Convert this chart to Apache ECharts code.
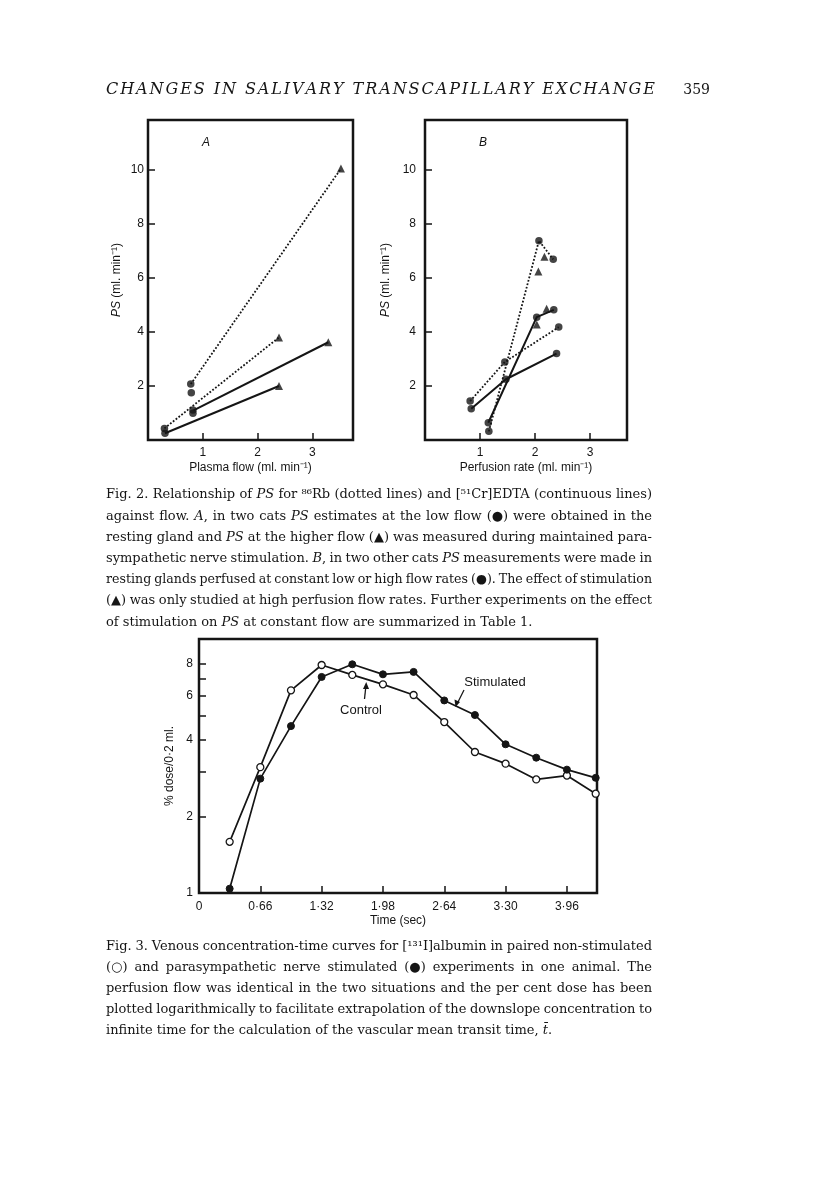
<!DOCTYPE html>
<html><head><meta charset="utf-8">
<script src="https://cdn.jsdelivr.net/npm/echarts@6.0.0/dist/echarts.min.js"></script>
<style>html,body{margin:0;padding:0;background:#fff}#c{width:816px;height:1183px}</style>
</head><body><div id="c"></div>
<script>
// ---------- Fig. 2A : PS vs plasma flow ----------
const A_xTicks = [1, 2, 3];
const A_yTicks = [2, 4, 6, 8, 10];
const A_rbLine1 = [[0.78, 2.07], [3.52, 10.05]];
const A_rbLine2 = [[0.30, 0.43], [2.39, 3.80]];
const A_edtaLine1 = [[0.83, 1.10], [3.29, 3.62]];
const A_edtaLine2 = [[0.31, 0.25], [2.39, 2.00]];
const A_restPoints = [[0.78, 2.07], [0.79, 1.75], [0.82, 1.11], [0.82, 0.99], [0.30, 0.43], [0.31, 0.25]];
const A_stimPoints = [[3.52, 10.05], [2.39, 3.80], [3.29, 3.62], [2.39, 2.00]];

// ---------- Fig. 2B : PS vs perfusion rate ----------
const B_xTicks = [1, 2, 3];
const B_yTicks = [2, 4, 6, 8, 10];
const B_rbLine1 = [[1.16, 0.32], [2.07, 7.38], [2.33, 6.69]];
const B_rbLine2 = [[0.82, 1.44], [1.45, 2.89], [2.43, 4.18]];
const B_edtaLine1 = [[1.15, 0.64], [2.03, 4.55], [2.34, 4.82]];
const B_edtaLine2 = [[0.84, 1.16], [1.47, 2.25], [2.39, 3.20]];
const B_restPoints = [[0.82, 1.44], [0.84, 1.16], [1.15, 0.64], [1.16, 0.32], [1.45, 2.89], [1.47, 2.25],
                      [2.07, 7.38], [2.33, 6.69], [2.34, 4.82], [2.03, 4.55], [2.43, 4.18], [2.39, 3.20]];
const B_stimPoints = [[2.17, 6.79], [2.06, 6.24], [2.21, 4.86], [2.03, 4.28]];

// ---------- Fig. 3 : venous concentration-time curves ----------
const F3_time = [0.33, 0.66, 0.99, 1.32, 1.65, 1.98, 2.31, 2.64, 2.97, 3.30, 3.63, 3.96, 4.27];
const F3_control = [1.59, 3.13, 6.28, 7.90, 7.22, 6.63, 6.02, 4.71, 3.59, 3.23, 2.80, 2.90, 2.46];
const F3_stimulated = [1.04, 2.82, 4.54, 7.09, 7.95, 7.26, 7.42, 5.73, 5.02, 3.85, 3.41, 3.06, 2.84];
const F3_xTicks = [0, 0.66, 1.32, 1.98, 2.64, 3.30, 3.96];
const F3_yTicks = [1, 2, 3, 4, 5, 6, 7, 8];
const F3_yLabels = [1, 2, 4, 6, 8];

// ---------- page texts ----------
const headerTitle = 'CHANGES IN SALIVARY TRANSCAPILLARY EXCHANGE';
const pageNumber = '359';
const fig2Caption = [
  'Fig. 2. Relationship of _PS_ for \u2078\u2076Rb (dotted lines) and [\u2075\u00B9Cr]EDTA (continuous lines)',
  'against flow. _A_, in two cats _PS_ estimates at the low flow (\u25CF) were obtained in the',
  'resting gland and _PS_ at the higher flow (\u25B2) was measured during maintained para-',
  'sympathetic nerve stimulation. _B_, in two other cats _PS_ measurements were made in',
  'resting glands perfused at constant low or high flow rates (\u25CF). The effect of stimulation',
  '(\u25B2) was only studied at high perfusion flow rates. Further experiments on the effect',
  'of stimulation on _PS_ at constant flow are summarized in Table 1.'
];
const fig3Caption = [
  'Fig. 3. Venous concentration-time curves for [\u00B9\u00B3\u00B9I]albumin in paired non-stimulated',
  '(\u25CB) and parasympathetic nerve stimulated (\u25CF) experiments in one animal. The',
  'perfusion flow was identical in the two situations and the per cent dose has been',
  'plotted logarithmically to facilitate extrapolation of the downslope concentration to',
  'infinite time for the calculation of the vascular mean transit time, _t\u0304_.'
];

// ================= rendering =================
const INK = '#151515';
const SANS = '"Liberation Sans", Arial, Helvetica, sans-serif';
const SERIF = '"DejaVu Serif", serif';
const mctx = document.createElement('canvas').getContext('2d');
function measure(t, font) { mctx.font = font; return mctx.measureText(t).width; }

const graphics = [];
function textEl(x, y, text, font, align) {
  graphics.push({ type: 'text', x: x, y: y, silent: true,
    style: { text: text, font: font, fill: INK, align: align || 'left', verticalAlign: 'middle' } });
}
function parseWords(line, size) {
  const normalFont = size.toFixed(2) + 'px ' + SERIF, italicFont = 'italic ' + size.toFixed(2) + 'px ' + SERIF;
  return line.split(' ').map(w => {
    const pieces = []; let wd = 0;
    w.split('_').forEach((p, i) => {
      if (!p) return;
      const f = (i % 2) ? italicFont : normalFont;
      const pw = measure(p, f);
      pieces.push({ t: p, f: f, w: pw }); wd += pw;
    });
    return { pieces: pieces, w: wd };
  });
}
function spaceW(size) { return measure(' ', size.toFixed(2) + 'px ' + SERIF); }
function naturalWidth(line, size) {
  const ws = parseWords(line, size);
  return ws.reduce((s, w) => s + w.w, 0) + (ws.length - 1) * spaceW(size);
}
function layoutLine(line, x0, x1, y, justify, size) {
  let words = parseWords(line, size);
  let total = words.reduce((s, w) => s + w.w, 0);
  if (justify && words.length > 1) {
    // shrink an over-full line slightly so that its word gaps stay readable
    const minGap = 0.75 * spaceW(size);
    if (x1 - x0 - total < minGap * (words.length - 1)) {
      const s2 = size * (x1 - x0) / (total + minGap * (words.length - 1));
      size = s2; words = parseWords(line, size); total = words.reduce((s, w) => s + w.w, 0);
    }
  }
  const gap = (justify && words.length > 1) ? (x1 - x0 - total) / (words.length - 1) : spaceW(size);
  let x = x0;
  words.forEach(w => { w.pieces.forEach(p => { textEl(x, y, p.t, p.f); x += p.w; }); x += gap; });
}
function layoutSpread(text, x0, x1, y, font) {
  const chars = text.split('');
  const widths = chars.map(c => measure(c, font));
  const total = widths.reduce((a, b) => a + b, 0);
  const extra = (x1 - x0 - total) / (chars.length - 1);
  let x = x0;
  chars.forEach((c, i) => { if (c !== ' ') textEl(x, y, c, font); x += widths[i] + extra; });
}

// text block geometry
const TX0 = 106, TX1 = 652;
const capSize = Math.min(13, 12 * (538 - TX0) / naturalWidth(fig2Caption[fig2Caption.length - 1], 12));
const hdrSize = Math.min(16, 13 * (655 - TX0) * 0.97 / measure(headerTitle, 'italic 13px ' + SERIF));
layoutSpread(headerTitle, TX0, 655, 90, 'italic ' + hdrSize.toFixed(2) + 'px ' + SERIF);
textEl(710, 90, pageNumber, '14px ' + SERIF, 'right');
fig2Caption.forEach((l, i) => layoutLine(l, TX0, TX1, 495 + i * 21.2, i < fig2Caption.length - 1, capSize));
fig3Caption.forEach((l, i) => layoutLine(l, TX0, TX1, 947 + i * 21, i < fig3Caption.length - 1, capSize));
// panel letters
textEl(206, 143, 'A', 'italic 12px ' + SANS, 'center');
textEl(483, 143, 'B', 'italic 12px ' + SANS, 'center');
// Fig 3 annotations with arrows
textEl(495, 682, 'Stimulated', '13px ' + SANS, 'center');
textEl(361, 710, 'Control', '13px ' + SANS, 'center');
graphics.push({ type: 'line', silent: true, shape: { x1: 464, y1: 690, x2: 457, y2: 704 }, style: { stroke: INK, lineWidth: 1.3 } });
graphics.push({ type: 'polygon', silent: true, shape: { points: [[455.5, 707], [454.5, 699.5], [460, 702]] }, style: { fill: INK } });
graphics.push({ type: 'line', silent: true, shape: { x1: 364.5, y1: 699, x2: 366, y2: 685 }, style: { stroke: INK, lineWidth: 1.3 } });
graphics.push({ type: 'polygon', silent: true, shape: { points: [[366.2, 682], [363, 689], [369, 689]] }, style: { fill: INK } });

function tickCfg(vals) {
  return { show: true, inside: true, length: 7, customValues: vals, lineStyle: { color: INK, width: 1.5 } };
}
function labelCfg(vals, margin, fmt) {
  const o = { show: true, customValues: vals, color: INK, fontSize: 12, fontFamily: SANS, margin: margin };
  if (fmt) o.formatter = fmt;
  return o;
}
const nameStyle = { color: INK, fontSize: 12, fontFamily: SANS,
  rich: { i: { fontStyle: 'italic', fontSize: 12, fontFamily: SANS, color: INK } } };
const gridBase = { show: true, borderColor: INK, borderWidth: 2.5, backgroundColor: 'transparent', containLabel: false, outerBoundsMode: 'none' };

function lineSeries(data, dotted, xi) {
  return { type: 'line', xAxisIndex: xi, yAxisIndex: xi, data: data, showSymbol: false, symbol: 'none',
    silent: true, clip: false, animation: false,
    lineStyle: { color: INK, width: dotted ? 1.8 : 2, type: dotted ? 'dotted' : 'solid' } };
}
function markSeries(data, sym, size, xi) {
  return { type: 'scatter', xAxisIndex: xi, yAxisIndex: xi, data: data, symbol: sym, symbolSize: size,
    silent: true, clip: false, animation: false, z: 5, itemStyle: { color: INK } };
}

const option = {
  animation: false,
  backgroundColor: '#fff',
  grid: [
    Object.assign({ left: 148, top: 120, width: 205, height: 320 }, gridBase),
    Object.assign({ left: 425, top: 120, width: 202, height: 320 }, gridBase),
    Object.assign({ left: 199, top: 639, width: 398, height: 254 }, gridBase)
  ],
  xAxis: [
    { gridIndex: 0, type: 'value', min: 0, max: 3.74, axisLine: { show: false }, splitLine: { show: false },
      axisTick: tickCfg(A_xTicks), axisLabel: labelCfg(A_xTicks, 7),
      name: 'Plasma flow (ml. min\u207B\u00B9)', nameLocation: 'middle', nameGap: 22, nameTextStyle: nameStyle },
    { gridIndex: 1, type: 'value', min: 0, max: 3.67, axisLine: { show: false }, splitLine: { show: false },
      axisTick: tickCfg(B_xTicks), axisLabel: labelCfg(B_xTicks, 7),
      name: 'Perfusion rate (ml. min\u207B\u00B9)', nameLocation: 'middle', nameGap: 22, nameTextStyle: nameStyle },
    { gridIndex: 2, type: 'value', min: 0, max: 4.284, axisLine: { show: false }, splitLine: { show: false },
      axisTick: tickCfg(F3_xTicks),
      axisLabel: labelCfg(F3_xTicks, 8, v => v === 0 ? '0' : v.toFixed(2).replace('.', '\u00B7')),
      name: 'Time (sec)', nameLocation: 'middle', nameGap: 22, nameTextStyle: nameStyle }
  ],
  yAxis: [
    { gridIndex: 0, type: 'value', min: 0, max: 11.85, axisLine: { show: false }, splitLine: { show: false },
      axisTick: tickCfg(A_yTicks), axisLabel: labelCfg(A_yTicks, 4),
      name: '{i|PS} (ml. min\u207B\u00B9)', nameLocation: 'middle', nameGap: 25, nameTextStyle: nameStyle },
    { gridIndex: 1, type: 'value', min: 0, max: 11.85, axisLine: { show: false }, splitLine: { show: false },
      axisTick: tickCfg(B_yTicks), axisLabel: labelCfg(B_yTicks, 9),
      name: '{i|PS} (ml. min\u207B\u00B9)', nameLocation: 'middle', nameGap: 33, nameTextStyle: nameStyle },
    { gridIndex: 2, type: 'log', logBase: 10, min: 1, max: 10, axisLine: { show: false }, splitLine: { show: false },
      axisTick: tickCfg(F3_yTicks), axisLabel: labelCfg(F3_yLabels, 6),
      name: '% dose/0\u00B72 ml.', nameLocation: 'middle', nameGap: 23, nameTextStyle: nameStyle }
  ],
  series: [
    lineSeries(A_rbLine1, true, 0), lineSeries(A_rbLine2, true, 0),
    lineSeries(A_edtaLine1, false, 0), lineSeries(A_edtaLine2, false, 0),
    markSeries(A_restPoints, 'circle', 7.5, 0), markSeries(A_stimPoints, 'triangle', 8, 0),
    lineSeries(B_rbLine1, true, 1), lineSeries(B_rbLine2, true, 1),
    lineSeries(B_edtaLine1, false, 1), lineSeries(B_edtaLine2, false, 1),
    markSeries(B_restPoints, 'circle', 7.5, 1), markSeries(B_stimPoints, 'triangle', 8, 1),
    { type: 'line', name: 'Control', xAxisIndex: 2, yAxisIndex: 2, silent: true, clip: false, animation: false,
      data: F3_time.map((t, i) => [t, F3_control[i]]), symbol: 'circle', symbolSize: 7, showSymbol: true, z: 3,
      lineStyle: { color: INK, width: 1.7 }, itemStyle: { color: '#fff', borderColor: INK, borderWidth: 1.3 } },
    { type: 'line', name: 'Stimulated', xAxisIndex: 2, yAxisIndex: 2, silent: true, clip: false, animation: false,
      data: F3_time.map((t, i) => [t, F3_stimulated[i]]), symbol: 'circle', symbolSize: 7, showSymbol: true, z: 4,
      lineStyle: { color: INK, width: 1.7 }, itemStyle: { color: INK, borderColor: INK, borderWidth: 1 } }
  ],
  graphic: graphics
};
const chart = echarts.init(document.getElementById('c'), null, { renderer: 'canvas', width: 816, height: 1183 });
chart.setOption(option);
</script></body></html>
